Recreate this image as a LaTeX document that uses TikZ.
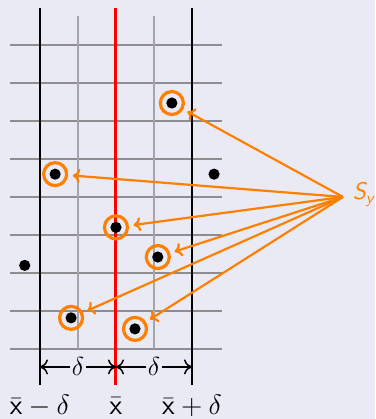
\RequirePackage{fix-cm}
\documentclass[tikz,border=0pt]{standalone}
\usepackage{amsmath}
\usepackage{fontspec}
\usetikzlibrary{arrows.meta}
\definecolor{bg}{RGB}{234,234,245}
\definecolor{myorange}{RGB}{255,128,0}
\definecolor{hgray}{RGB}{140,140,145}
\definecolor{vgray}{RGB}{165,165,170}
\begin{document}
\begin{tikzpicture}[x=19pt,y=19pt,
  dot/.style={circle,fill=black,minimum size=5.6pt,inner sep=0pt},
  ring/.style={circle,draw=myorange,line width=1.6pt,minimum size=11.5pt,inner sep=0pt},
  arr/.style={myorange,line width=1.1pt,-{To[length=3.6pt,width=7pt]},shorten >=2.3pt},
  hline/.style={hgray,line width=0.75pt},
  vline/.style={vgray,line width=0.6pt},
  bline/.style={black,line width=1.1pt},
  rline/.style={red,line width=1.5pt},
  dim/.style={black,line width=0.75pt,{To[length=4pt,width=7.5pt]}-{To[length=4pt,width=7.5pt]}},
  dlab/.style={fill=bg,inner sep=1pt,font=\fontsize{13}{15}\selectfont},
  blab/.style={font=\fontsize{14}{16}\selectfont},
  sylab/.style={myorange,anchor=base west,inner sep=0pt,font=\fontsize{12}{14}\selectfont}]
\fill[bg] (-3.05,-1.84) rectangle (6.82,9.18);
\useasboundingbox (-3.05,-1.84) rectangle (6.82,9.18);
% grid
\foreach \y in {0,...,8} \draw[hline] (-2.8,\y) -- (2.8,\y);
\draw[vline] (-1,0) -- (-1,8.76);
\draw[vline] (1,0) -- (1,8.76);
\draw[bline] (-2,-0.95) -- (-2,8.97);
\draw[bline] (2,-0.95) -- (2,8.97);
\draw[rline] (0,-0.95) -- (0,8.97);
% points
\node[dot] (p1) at (1.47,6.47) {};
\node[dot] (p2) at (-1.6,4.6) {};
\node[dot] (p3) at (2.58,4.6) {};
\node[dot] (p4) at (0,3.2) {};
\node[dot] (p5) at (1.1,2.42) {};
\node[dot] (p6) at (-2.4,2.2) {};
\node[dot] (p7) at (-1.18,0.82) {};
\node[dot] (p8) at (0.5,0.53) {};
% rings
\node[ring] (r1) at (p1) {};
\node[ring] (r2) at (p2) {};
\node[ring] (r4) at (p4) {};
\node[ring] (r5) at (p5) {};
\node[ring] (r7) at (p7) {};
\node[ring] (r8) at (p8) {};
% S_y
\coordinate (sy) at (5.97,4.0);
\node[sylab] (sylabel) at (6.22,3.92) {$\textsf{\itshape S}_{\textsf{\itshape y}}$};
\foreach \r in {r1,r2,r4,r5,r7,r8} \draw[arr] (sy) -- (\r);
% dimension arrows
\coordinate (dl) at (-2,-0.47);
\coordinate (dm) at (0,-0.47);
\coordinate (dr) at (2,-0.47);
\draw[dim] (dl) -- node[dlab] (d1) {$\delta$} (dm);
\draw[dim] (dm) -- node[dlab] (d2) {$\delta$} (dr);
% bottom labels
\node[blab] (l1) at (-2,-1.5) {$\bar{\mathsf{x}}-\delta$};
\node[blab] (l2) at (0,-1.5) {$\bar{\mathsf{x}}$};
\node[blab] (l3) at (2,-1.5) {$\bar{\mathsf{x}}+\delta$};
\end{tikzpicture}
\end{document}
